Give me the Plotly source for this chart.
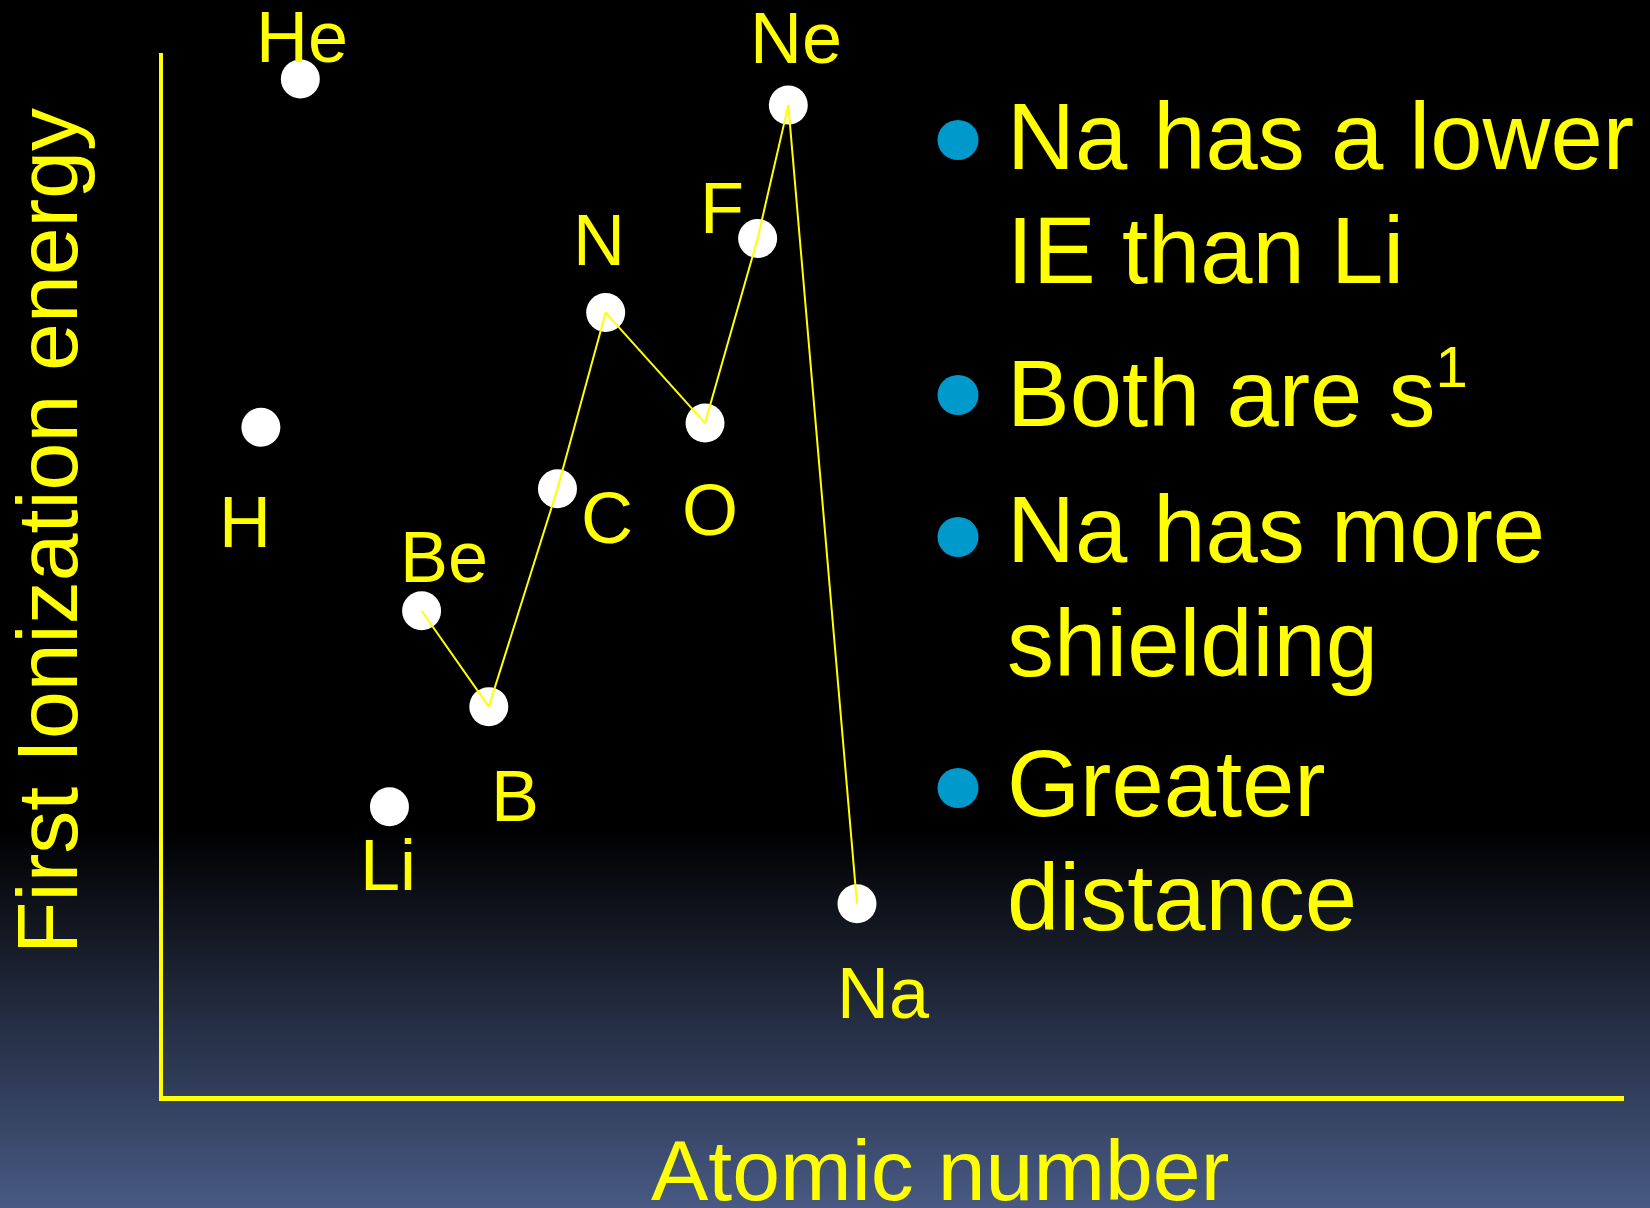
import plotly.graph_objects as go

# ---------------- data (axis has no ticks, values are relative) -------------
elements = ["H", "He", "Li", "Be", "B", "C", "N", "O", "F", "Ne", "Na"]
atomic_position = [6.7, 9.4, 15.5, 17.7, 22.3, 27.0, 30.3, 37.1, 40.7, 42.8, 47.5]
first_ie = [64.1, 97.5, 27.7, 46.5, 37.3, 58.2, 75.1, 64.5, 82.2, 95.0, 18.4]
trend_elements = ["Be", "B", "C", "N", "O", "F", "Ne", "Na"]

x_title = "Atomic number"
y_title = "First Ionization energy"

bullet_points = [
    ["Na has a lower", "IE than Li"],
    ["Both are s<sup><span style='font-size:58px'>1</span></sup>"],
    ["Na has more", "shielding"],
    ["Greater", "distance"],
]

# ---------------- styling ----------------
W, H = 1650, 1208
YELLOW = "#FFFF00"
FONT = "Liberation Sans, Arial, sans-serif"

# label offsets in pixels (dx right, dy up) relative to each point
label_offsets = {
    "H": (-16, -95), "He": (2, 42), "Li": (-1, -58), "Be": (22, 54),
    "B": (26, -89), "C": (50, -29), "N": (-7, 73), "O": (5, -87),
    "F": (-36, 31), "Ne": (8, 67), "Na": (27, -89),
}

def px_x(px):
    return px / W

def px_y(py):
    return 1 - py / H

fig = go.Figure()

idx = [elements.index(e) for e in trend_elements]

# markers
fig.add_trace(go.Scatter(
    x=atomic_position, y=first_ie, mode="markers",
    marker=dict(size=39, color="white", line=dict(width=0)),
    text=elements, hoverinfo="text",
))

# connecting line (Be ... Na), drawn over the markers like the reference
fig.add_trace(go.Scatter(
    x=[atomic_position[i] for i in idx],
    y=[first_ie[i] for i in idx],
    mode="lines",
    line=dict(color=YELLOW, width=2),
    hoverinfo="skip",
))

annotations = []
for el, xv, yv in zip(elements, atomic_position, first_ie):
    dx, dy = label_offsets[el]
    annotations.append(dict(
        x=xv, y=yv, xref="x", yref="y", text=el, showarrow=False,
        xshift=dx, yshift=dy, xanchor="center", yanchor="middle",
        font=dict(family=FONT, size=72, color=YELLOW),
    ))

# axis titles
annotations.append(dict(
    x=px_x(940), y=px_y(1170), xref="paper", yref="paper", text=x_title,
    showarrow=False, xanchor="center", yanchor="middle",
    font=dict(family=FONT, size=86, color=YELLOW),
))
annotations.append(dict(
    x=px_x(47), y=px_y(531), xref="paper", yref="paper", text=y_title,
    showarrow=False, xanchor="center", yanchor="middle", textangle=-90,
    font=dict(family=FONT, size=86, color=YELLOW),
))

# bullet text
line_centers = [[136, 251], [390], [529, 643], [783, 897]]
bullet_centers = [140, 395, 537, 788]
shapes = []

# background gradient (black -> slate blue at the bottom)
g_top, g_bot = 830, H
c0 = (0, 0, 0)
c1 = (72, 90, 132)
step = 3
y = g_top
while y < g_bot:
    t = (y + step / 2 - g_top) / (g_bot - g_top)
    col = tuple(int(round(a + (b - a) * t)) for a, b in zip(c0, c1))
    shapes.append(dict(
        type="rect", xref="paper", yref="paper", x0=0, x1=1,
        y0=px_y(min(y + step, g_bot)), y1=px_y(y),
        fillcolor="rgb(%d,%d,%d)" % col, line=dict(width=0), layer="below",
    ))
    y += step

for lines, centers, bc in zip(bullet_points, line_centers, bullet_centers):
    for txt, cy in zip(lines, centers):
        annotations.append(dict(
            x=px_x(1005), y=px_y(cy), xref="paper", yref="paper", text=txt,
            showarrow=False, xanchor="left", yanchor="middle",
            font=dict(family=FONT, size=94, color=YELLOW),
        ))
    shapes.append(dict(
        type="circle", xref="paper", yref="paper",
        xsizemode="pixel", ysizemode="pixel",
        xanchor=px_x(958), yanchor=px_y(bc),
        x0=-20.5, x1=20.5, y0=-20, y1=20,
        fillcolor="rgb(0,153,204)", line=dict(width=0), layer="above",
    ))

fig.update_layout(
    width=W, height=H,
    margin=dict(l=0, r=0, t=0, b=0),
    paper_bgcolor="black",
    plot_bgcolor="rgba(0,0,0,0)",
    showlegend=False,
    xaxis=dict(domain=[163 / W, 1624 / W], range=[0, 100], showgrid=False,
               zeroline=False, showticklabels=False, ticks="",
               showline=True, linecolor=YELLOW, linewidth=5, fixedrange=True),
    yaxis=dict(domain=[1 - 1095.5 / H, 1 - 53 / H], range=[0, 100], showgrid=False,
               zeroline=False, showticklabels=False, ticks="",
               showline=True, linecolor=YELLOW, linewidth=4, fixedrange=True),
    annotations=annotations,
    shapes=shapes,
)

fig.write_html(
    "out.html",
    config={"displayModeBar": False},
    post_script="document.body.style.margin='0';document.body.style.overflow='hidden';",
)
